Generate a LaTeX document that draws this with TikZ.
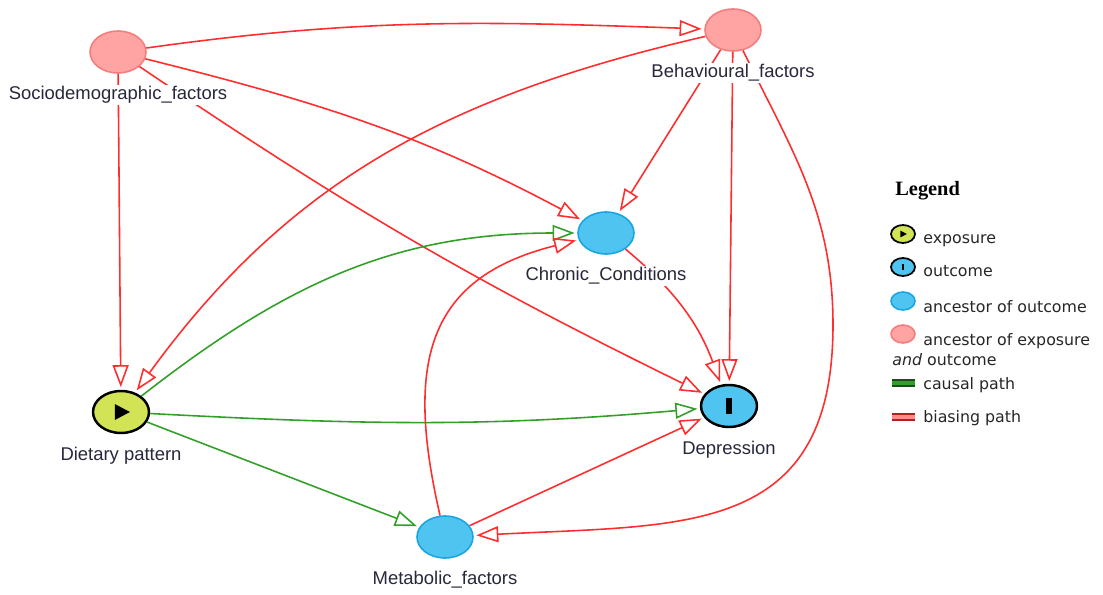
\documentclass[tikz,border=0pt]{standalone}
\usepackage{fontspec}
\setmainfont{Liberation Sans}
\newfontfamily\legendfont{DejaVu Sans}
\newfontfamily\headfont{Liberation Serif}
\usepackage{tikz}
\usetikzlibrary{shapes.geometric,arrows.meta,calc,positioning}
\definecolor{expfill}{RGB}{210,228,86}
\definecolor{outfill}{RGB}{80,196,240}
\definecolor{outborder}{RGB}{25,165,225}
\definecolor{ancfill}{RGB}{255,163,163}
\definecolor{ancborder}{RGB}{245,125,125}
\definecolor{biasred}{RGB}{255,45,45}
\definecolor{causalgreen}{RGB}{50,160,40}
\definecolor{labeltext}{RGB}{40,40,60}
\tikzstyle{varnode} = [ellipse, minimum width=1.12cm, minimum height=0.84cm, inner sep=0pt]
\tikzstyle{ancexp} = [varnode, fill=ancfill, draw=ancborder, line width=0.9pt]
\tikzstyle{ancout} = [varnode, fill=outfill, draw=outborder, line width=0.9pt]
\tikzstyle{exposure} = [varnode, fill=expfill, draw=black, line width=1.4pt,
    path picture={\fill[black] let \p1=($(path picture bounding box.north east)-(path picture bounding box.south west)$) in
      ($(path picture bounding box.center)+(-0.11*\x1,0.19*\y1)$) -- ++(0.27*\x1,-0.19*\y1)
      -- ++(-0.27*\x1,-0.19*\y1) -- cycle;}]
\tikzstyle{outcome} = [varnode, fill=outfill, draw=black, line width=1.4pt,
    path picture={\fill[black] let \p1=($(path picture bounding box.north east)-(path picture bounding box.south west)$) in
      ($(path picture bounding box.center)+(-0.045*\x1,-0.19*\y1)$) rectangle ++(0.09*\x1,0.38*\y1);}]
\tikzstyle{legendsym} = [minimum width=0.48cm, minimum height=0.36cm]
\tikzstyle{varlabel} = [fill=white, inner sep=1pt, text height=2.6mm, text depth=0.7mm,
    text=labeltext, font=\fontsize{10.5}{12}\selectfont]
\tikzstyle{legendtext} = [inner sep=0pt, anchor=base west, text=black!85,
    font=\legendfont\fontsize{9}{11}\selectfont]
\tikzstyle{line} = [draw, line width=0.9pt, shorten >=1.5pt, -{Triangle[open,length=4.4mm,width=3.2mm]}]
\tikzstyle{biasing} = [line, biasred]
\tikzstyle{causal} = [line, causalgreen]
\begin{document}
\begin{tikzpicture}[x=0.02cm, y=0.02cm]
    \useasboundingbox (0,0) rectangle (1103,-595);
    \node [ancexp] (socio) at (118,-52) {};
    \node [ancexp] (behav) at (733,-30) {};
    \node [ancout] (chronic) at (606,-233) {};
    \node [exposure] (diet) at (121,-412) {};
    \node [outcome] (dep) at (729,-406) {};
    \node [ancout] (metab) at (445,-537) {};
    \coordinate (bm-turn) at (833,-325);
    % Draw edges
    \path[biasing] (socio) to[out=8, in=178] (behav);
    \path[biasing] (socio) to[out=-14, in=152] (chronic);
    \path[biasing] (socio) to[bend right=4] (dep);
    \path[biasing] (socio) -- (diet);
    \path[biasing] (behav) to[out=193, in=54] (diet);
    \path[biasing] (behav) -- (chronic);
    \path[biasing] (behav) -- (dep);
    \path[biasing] (behav) to[out=-64, in=90] (bm-turn) to[out=-90, in=3, looseness=1.3] (metab);
    \path[biasing] (chronic) to[bend left=15] (dep);
    \path[causal] (diet) to[out=38, in=180] (chronic);
    \path[causal] (diet) to[out=-3, in=185] (dep);
    \path[causal] (diet) -- (metab);
    \path[biasing] (metab) to[out=103, in=194, looseness=1.3] (chronic);
    \path[biasing] (metab) -- (dep);
    % Labels
    \node [varlabel, below=2.2mm of socio] (socio-lbl) {Sociodemographic\_factors};
    \node [varlabel, below=2.2mm of behav] (behav-lbl) {Behavioural\_factors};
    \node [varlabel, below=2.2mm of chronic] (chronic-lbl) {Chronic\_Conditions};
    \node [varlabel, below=2.2mm of diet] (diet-lbl) {Dietary pattern};
    \node [varlabel, below=2.2mm of dep] (dep-lbl) {Depression};
    \node [varlabel, below=2.2mm of metab] (metab-lbl) {Metabolic\_factors};
    % Legend
    \node [inner sep=0pt, anchor=base west, font=\headfont\bfseries\fontsize{11.6}{13}\selectfont] (lg-title) at (895,-195) {Legend};
    \node [exposure, legendsym, line width=1pt] (lg-exp) at (903,-234) {};
    \node [legendtext] (lg-exp-txt) at (923,-243) {exposure};
    \node [outcome, legendsym, line width=1pt] (lg-out) at (903,-267) {};
    \node [legendtext] (lg-out-txt) at (923,-276) {outcome};
    \node [ancout, legendsym] (lg-ancout) at (903,-301) {};
    \node [legendtext] (lg-ancout-txt) at (923,-312) {ancestor of outcome};
    \node [ancexp, legendsym] (lg-ancexp) at (903,-334) {};
    \node [legendtext] (lg-ancexp-txt) at (923,-345) {ancestor of exposure};
    \node [legendtext] (lg-ancexp-txt2) at (892,-365) {\textit{and} outcome};
    \draw [draw=causalgreen!50!black, double=causalgreen, double distance=1.8pt, line width=1.3pt] (892,-383) -- (915,-383);
    \node [legendtext] (lg-causal-txt) at (923,-389) {causal path};
    \draw [draw=biasred!70!black, double=biasred!55, double distance=1.8pt, line width=1.3pt] (892,-417) -- (915,-417);
    \node [legendtext] (lg-bias-txt) at (923,-422) {biasing path};
\end{tikzpicture}
\end{document}
